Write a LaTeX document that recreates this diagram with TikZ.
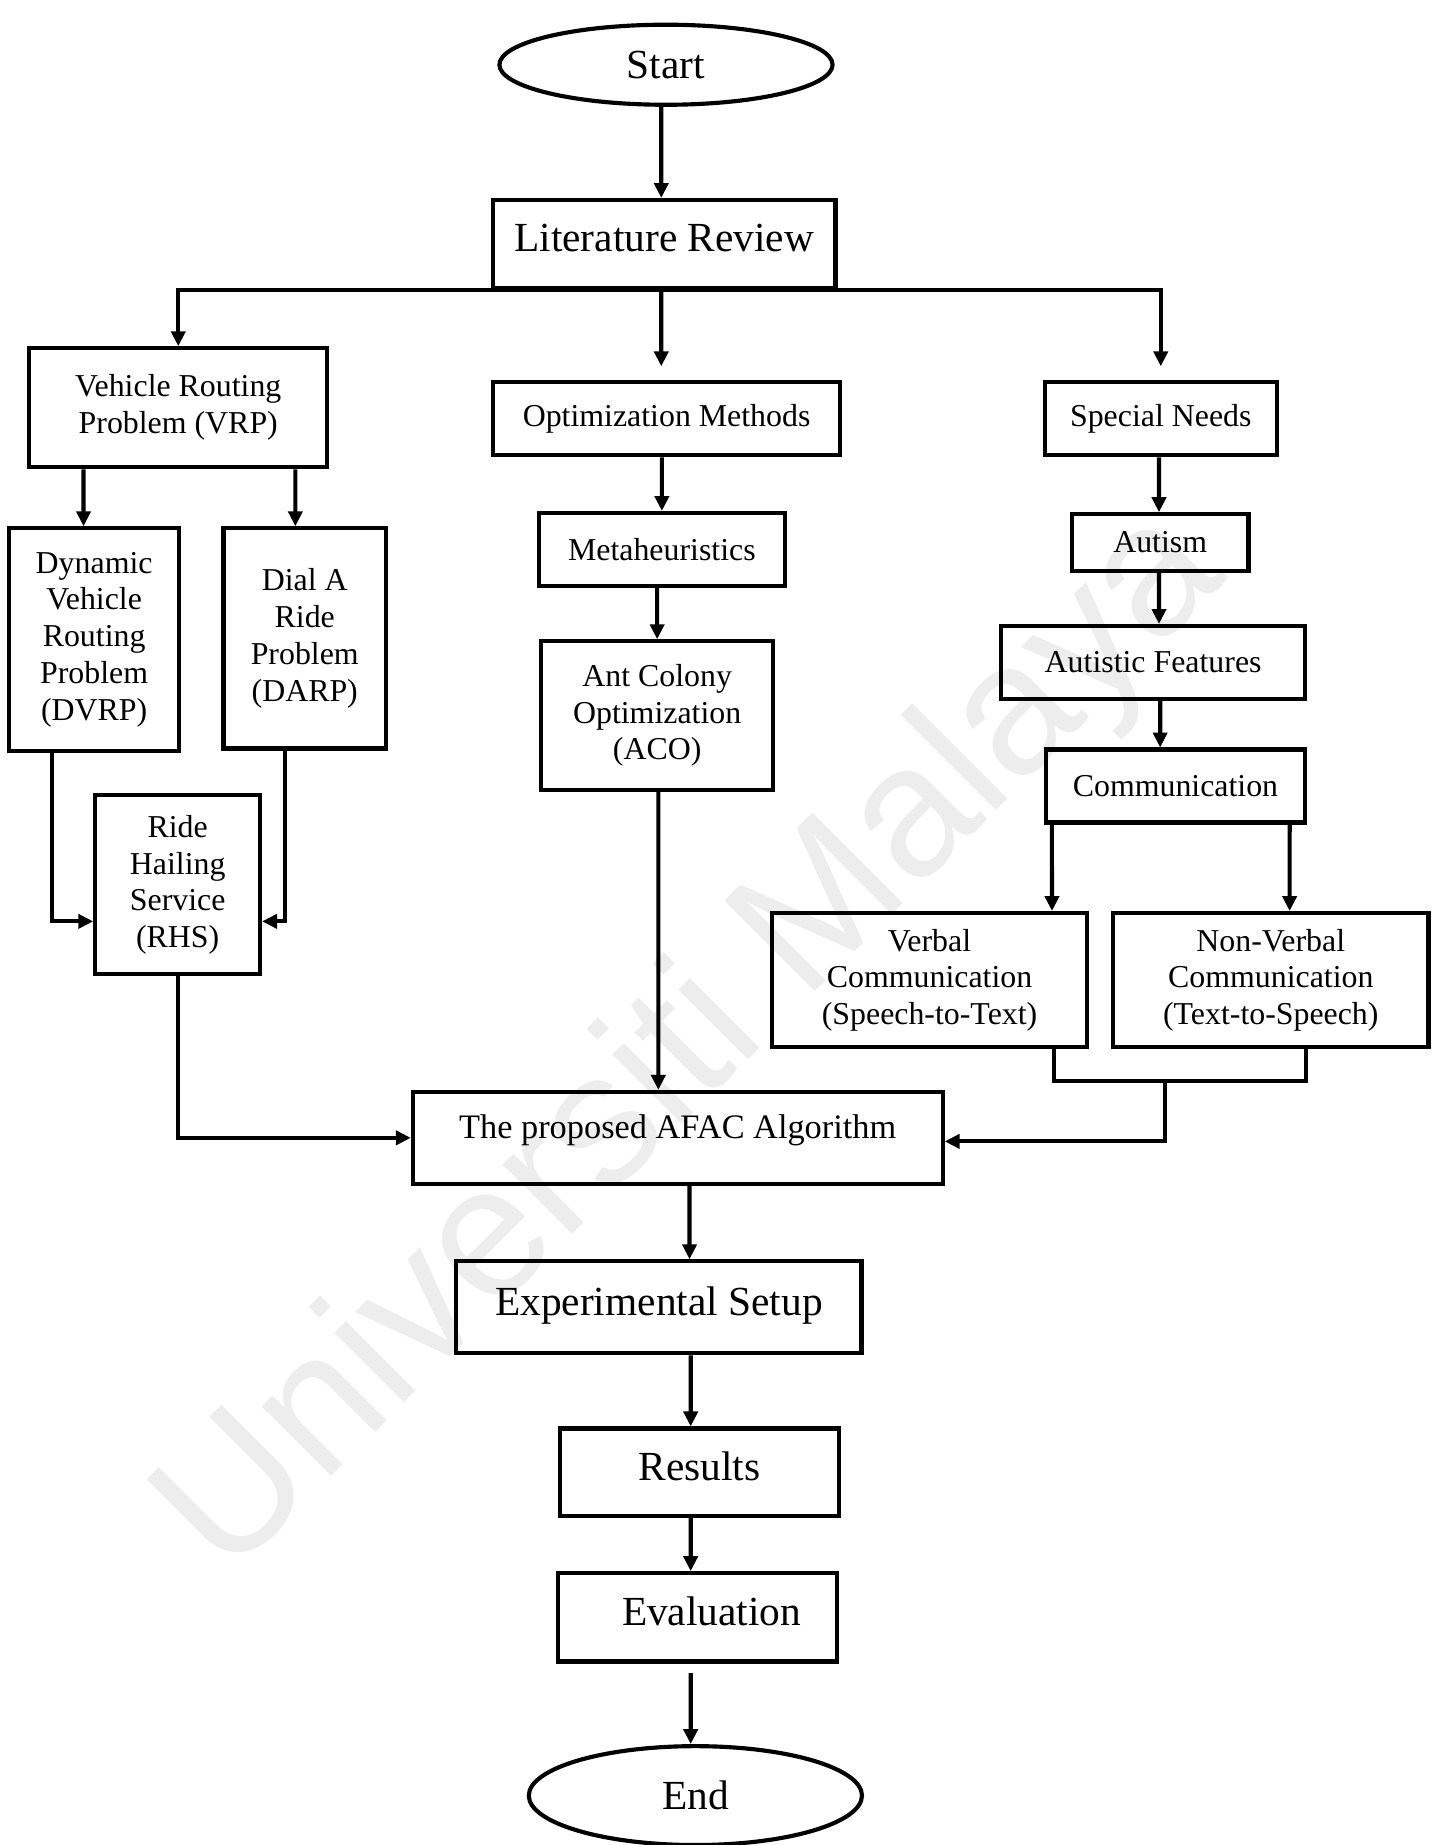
\documentclass[tikz,border=0pt]{standalone}
\usepackage{fontspec}
\setmainfont{Liberation Serif}
\newfontfamily\wmfont{Liberation Sans}
\usetikzlibrary{arrows.meta,shapes.geometric}

\begin{document}
\begin{tikzpicture}[x=0.01cm, y=-0.01cm,
    box/.style={draw, line width=1pt, inner sep=0pt, align=center},
    small/.style={font=\fontsize{7.7}{8.9}\selectfont},
    big/.style={font=\fontsize{10}{12}\selectfont, text depth=3pt},
    term/.style={draw, ellipse, line width=1pt, inner sep=0pt, font=\fontsize{10}{12}\selectfont},
    line/.style={line width=1pt},
    arr/.style={line width=1pt, -{Triangle[length=3.6pt,width=3.4pt]}},
    wm/.style={rotate=45, text=black!7, font=\wmfont\fontsize{45}{54}\selectfont}]

    \useasboundingbox (0,0) rectangle (1224,1568);

    % watermark behind everything
    \node[wm] (wmark) at (590,888) {Universiti Malaya};

    \node[term, minimum width=2.83cm, minimum height=0.68cm] (startn) at (566,55) {Start};
    \node[box, big, minimum width=2.91cm, minimum height=0.75cm] (litrev) at (564.5,207.5) {Literature Review};

    % left branch
    \node[box, small, minimum width=2.53cm, minimum height=1.01cm] (vrp) at (151.5,346.5) {Vehicle Routing\\Problem (VRP)};
    \node[box, small, minimum width=1.44cm, minimum height=1.89cm] (dvrp) at (80,543.5) {Dynamic\\Vehicle\\Routing\\Problem\\(DVRP)};
    \node[box, small, minimum width=1.38cm, minimum height=1.87cm] (darp) at (259,542.5) {Dial A\\Ride\\Problem\\(DARP)};
    \node[box, small, minimum width=1.40cm, minimum height=1.52cm] (rhs) at (151,752) {Ride\\Hailing\\Service\\(RHS)};

    % middle branch
    \node[box, small, minimum width=2.95cm, minimum height=0.62cm] (optm) at (566.5,356) {Optimization Methods};
    \node[box, small, minimum width=2.09cm, minimum height=0.62cm] (meta) at (562.5,467) {Metaheuristics};
    \node[box, small, minimum width=1.97cm, minimum height=1.26cm] (aco) at (558.5,608) {Ant Colony\\Optimization\\(ACO)};

    % right branch
    \node[box, small, minimum width=1.97cm, minimum height=0.62cm] (spneeds) at (986.5,356) {Special Needs};
    \node[box, small, minimum width=1.50cm, minimum height=0.48cm] (autism) at (986,461) {Autism};
    \node[box, small, minimum width=2.58cm, minimum height=0.62cm] (autfeat) at (980,563) {Autistic Features};
    \node[box, small, minimum width=2.20cm, minimum height=0.62cm] (comm) at (999,668) {Communication};
    \node[box, small, minimum width=2.68cm, minimum height=1.14cm] (verbal) at (790,833) {Verbal\\Communication\\(Speech-to-Text)};
    \node[box, small, minimum width=2.68cm, minimum height=1.14cm] (nonverbal) at (1080,833) {Non-Verbal\\Communication\\(Text-to-Speech)};

    % bottom column
    \node[box, font=\fontsize{8.3}{9.6}\selectfont, text depth=5.6pt, minimum width=4.50cm, minimum height=0.78cm] (afac) at (576,967) {The proposed AFAC Algorithm};
    \node[box, big, minimum width=3.44cm, minimum height=0.78cm] (expsetup) at (560,1111) {Experimental Setup};
    \node[box, big, minimum width=2.37cm, minimum height=0.74cm] (results) at (594.5,1251) {Results};
    \node[box, big, minimum width=2.37cm, minimum height=0.75cm] (evaluation) at (592.5,1374.5) {\hspace*{7pt}Evaluation};
    \node[term, minimum width=2.83cm, minimum height=0.84cm] (endn) at (591,1526) {End};

    \draw[arr] ([xshift=-0.04cm]startn.south) -- ([xshift=-0.025cm]litrev.north);

    % split under the review box
    \draw[arr] (litrev.south) -| (vrp.north);
    \draw[arr, shorten >=3.4pt] (litrev.south) -| (spneeds.north);
    \draw[arr, shorten >=3.4pt] ([xshift=-0.025cm]litrev.south) -- ([xshift=-0.045cm]optm.north);

    \draw[arr] ([xshift=-0.805cm]vrp.south) -- ([xshift=-0.09cm]dvrp.north);
    \draw[arr] ([xshift=0.995cm]vrp.south) -- ([xshift=-0.08cm]darp.north);
    \draw[arr] ([xshift=-0.36cm]dvrp.south) |- ([yshift=-0.31cm]rhs.west);
    \draw[arr] ([xshift=-0.17cm]darp.south) |- ([yshift=-0.31cm]rhs.east);
    \draw[arr] (rhs.south) |- (afac.west);

    \draw[arr] ([xshift=-0.04cm]optm.south) -- (meta.north);
    \draw[arr] ([xshift=-0.04cm]meta.south) -- (aco.north);
    \draw[arr] ([xshift=0.01cm]aco.south) -- ([xshift=-0.165cm]afac.north);

    \draw[arr] ([xshift=-0.015cm]spneeds.south) -- ([xshift=-0.01cm]autism.north);
    \draw[arr] ([xshift=-0.01cm]autism.south) -- ([xshift=0.05cm]autfeat.north);
    \draw[arr] ([xshift=0.06cm]autfeat.south) -- ([xshift=-0.13cm]comm.north);
    \draw[arr] ([xshift=-1.05cm]comm.south) -- ([xshift=1.04cm]verbal.north);
    \draw[arr] ([xshift=0.97cm]comm.south) -- ([xshift=0.16cm]nonverbal.north);

    % join of the two communication boxes
    \coordinate (merge) at (990,919);
    \draw[line] ([xshift=1.06cm]verbal.south) |- (merge) -| ([xshift=0.30cm]nonverbal.south);
    \draw[arr] (merge) |- ([yshift=-0.03cm]afac.east);

    \draw[arr] ([xshift=0.10cm]afac.south) -- ([xshift=0.26cm]expsetup.north);
    \draw[arr] ([xshift=0.27cm]expsetup.south) -- ([xshift=-0.075cm]results.north);
    \draw[arr] ([xshift=-0.075cm]results.south) -- ([xshift=-0.055cm]evaluation.north);
    \draw[arr, shorten <=2.3pt] ([xshift=-0.055cm]evaluation.south) -- ([xshift=-0.04cm]endn.north);
\end{tikzpicture}
\end{document}
